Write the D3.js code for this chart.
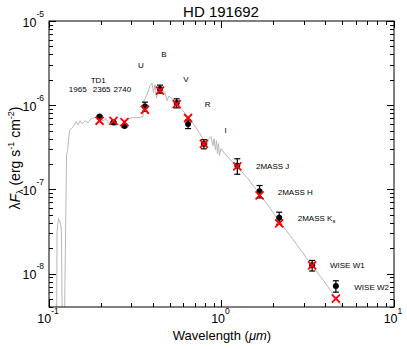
<!DOCTYPE html>
<html>
<head>
<meta charset="utf-8">
<script src="https://d3js.org/d3.v7.min.js"></script>
<title>HD 191692</title>
<style>
  body { margin: 0; background: #fff; }
  text { font-family: "Liberation Sans", Arial, Helvetica, sans-serif; fill: #000; }
</style>
</head>
<body>
<div id="chart"></div>
<script>
// photometry (wavelength in micron, lambda*F_lambda in erg s-1 cm-2)
var bandWave  = [0.1965, 0.2365, 0.274, 0.36, 0.44, 0.55, 0.64, 0.79, 1.235, 1.662, 2.159, 3.353, 4.603];
var obsFlux   = [7.35e-7, 6.24e-7, 5.65e-7, 9.66e-7, 1.56e-6, 1.06e-6, 5.97e-7, 3.46e-7, 1.91e-7, 9.5e-8, 4.6e-8, 1.25e-8, 7.1e-9];
var obsErr    = [1.5e-8, 1.5e-8, 1.5e-8, 1.2e-7, 1.7e-7, 1.3e-7, 7e-8, 4.3e-8, 4e-8, 1.6e-8, 7.5e-9, 1.8e-9, 1.1e-9];
var modelFlux = [6.53e-7, 6.5e-7, 6.3e-7, 8.82e-7, 1.49e-6, 1.03e-6, 7.04e-7, 3.46e-7, 1.88e-7, 8.5e-8, 3.94e-8, 1.25e-8, 5.04e-9];

// model spectrum
var specWave = [0.1105, 0.1113, 0.1135, 0.1166, 0.1181, 0.1197, 0.1222, 0.1264, 0.1280, 0.1315,
                0.1359, 0.1396, 0.1434, 0.1473, 0.1513, 0.1554, 0.1617, 0.1683, 0.1752, 0.1823,
                0.1897, 0.1975, 0.2056, 0.2140, 0.2227, 0.2318, 0.2413, 0.2512, 0.2614, 0.2721,
                0.2832, 0.3027, 0.3281, 0.3507, 0.3530, 0.3700, 0.3850, 0.3955, 0.4035, 0.4117,
                0.4201, 0.4285, 0.4520, 0.4704, 0.4832, 0.4962, 0.5449, 0.5902, 0.6394, 0.6928,
                0.7506, 0.8024, 0.8241, 0.8352, 0.8692, 0.8927, 0.9047, 0.9231, 0.9354, 0.9480,
                0.9607, 0.9736, 0.9933, 1.105, 1.230, 1.424, 1.650, 1.885, 2.154, 2.495,
                2.890, 3.346, 3.929, 4.611, 5.412];
var specFlux = [1e-9, 3.16e-8, 4.51e-8, 3.94e-8, 3.16e-8, 1e-9, 1e-9, 2.58e-7, 2.81e-7, 4.98e-7,
                5.40e-7, 5.70e-7, 6.35e-7, 5.86e-7, 6.53e-7, 6.02e-7, 6.53e-7, 6.18e-7, 6.90e-7, 7.10e-7,
                7.30e-7, 6.90e-7, 6.53e-7, 6.90e-7, 6.02e-7, 6.35e-7, 5.70e-7, 6.02e-7, 5.55e-7, 6.53e-7,
                6.90e-7, 7.10e-7, 7.10e-7, 7.30e-7, 1.10e-6, 1.33e-6, 1.70e-6, 1.84e-6, 1.40e-6, 1.75e-6,
                1.22e-6, 1.65e-6, 1.56e-6, 1.40e-6, 1.13e-6, 1.29e-6, 1.07e-6, 8.82e-7, 7.30e-7, 5.86e-7,
                4.58e-7, 3.58e-7, 3.21e-7, 3.89e-7, 4.23e-7, 3.30e-7, 4.00e-7, 2.96e-7, 3.79e-7, 2.65e-7,
                3.49e-7, 2.51e-7, 3.04e-7, 2.32e-7, 1.89e-7, 1.34e-7, 8.91e-8, 6.25e-8, 4.16e-8, 2.84e-8,
                1.88e-8, 1.25e-8, 8.09e-9, 5.08e-9, 3.29e-9];

// annotations (data coords)
var noteText = ["TD1", "1965", "2365", "2740", "U", "B", "V", "R", "I", "2MASS J", "2MASS H", "2MASS K", "WISE W1", "WISE W2"];
var noteWave = [0.193, 0.1467, 0.202, 0.266, 0.3415, 0.4642, 0.6225, 0.8318, 1.058, 1.585, 2.118, 2.765, 4.256, 5.887];
var noteFlux = [1.84e-6, 1.44e-6, 1.44e-6, 1.44e-6, 2.74e-6, 3.69e-6, 1.87e-6, 9.44e-7, 4.71e-7, 1.76e-7, 8.68e-8, 4.21e-8, 1.15e-8, 6.41e-9];

var xMajor = [0.1, 1, 10], xExp = ["-1", "0", "1"];
var yMajor = [1e-8, 1e-7, 1e-6, 1e-5], yExp = ["-8", "-7", "-6", "-5"];

(function(){
  var w = 407, h = 349;
  var left = 49, right = 394, top = 21, bottom = 307;

  var x = d3.scaleLog().domain([0.1, 10]).range([left, right]);
  var y = d3.scaleLog().domain([4e-9, 1e-5]).range([bottom, top]);

  var svg = d3.select("#chart").append("svg")
      .attr("width", w).attr("height", h);

  svg.append("defs").append("clipPath").attr("id", "clip")
    .append("rect").attr("x", left).attr("y", top)
    .attr("width", right - left).attr("height", bottom - top);

  // spectrum
  var line = d3.line()
      .x(function(d) { return x(d[0]); })
      .y(function(d) { return y(d[1]); });
  svg.append("path")
      .datum(d3.zip(specWave, specFlux))
      .attr("clip-path", "url(#clip)")
      .attr("d", line)
      .attr("fill", "none")
      .attr("stroke", "#b8b8b8")
      .attr("stroke-width", 1);

  // observed points
  var obs = d3.range(bandWave.length);
  var g = svg.append("g").attr("stroke", "#000").attr("stroke-width", 1.2);
  g.selectAll("line.err").data(obs).enter().append("line")
      .attr("x1", function(i) { return x(bandWave[i]); })
      .attr("x2", function(i) { return x(bandWave[i]); })
      .attr("y1", function(i) { return y(obsFlux[i] - obsErr[i]); })
      .attr("y2", function(i) { return y(obsFlux[i] + obsErr[i]); });
  [-1, 1].forEach(function(s) {
    g.selectAll(null).data(obs).enter().append("line")
      .attr("x1", function(i) { return x(bandWave[i]) - 3; })
      .attr("x2", function(i) { return x(bandWave[i]) + 3; })
      .attr("y1", function(i) { return y(obsFlux[i] + s * obsErr[i]); })
      .attr("y2", function(i) { return y(obsFlux[i] + s * obsErr[i]); });
  });
  svg.selectAll("circle").data(obs).enter().append("circle")
      .attr("cx", function(i) { return x(bandWave[i]); })
      .attr("cy", function(i) { return y(obsFlux[i]); })
      .attr("r", 3)
      .attr("fill", "#000");

  // model photometry
  svg.selectAll("path.model").data(obs).enter().append("path")
      .attr("d", function(i) {
        var cx = x(bandWave[i]), cy = y(modelFlux[i]), r = 4;
        return "M" + (cx - r) + "," + (cy - r) + "L" + (cx + r) + "," + (cy + r) +
               "M" + (cx - r) + "," + (cy + r) + "L" + (cx + r) + "," + (cy - r);
      })
      .attr("stroke", "#ff0000")
      .attr("stroke-width", 1.8)
      .attr("fill", "none");

  // annotations
  svg.selectAll("text.note").data(noteText).enter().append("text")
      .attr("x", function(d, i) { return x(noteWave[i]); })
      .attr("y", function(d, i) { return y(noteFlux[i]); })
      .attr("text-anchor", function(d, i) { return i < 9 ? "middle" : "start"; })
      .style("font-size", "8px")
      .each(function(d) {
        var t = d3.select(this);
        t.append("tspan").text(d);
        if (d === "2MASS K") t.append("tspan").attr("dy", 2).style("font-size", "6px").text("s");
      });

  // frame
  svg.append("rect")
      .attr("x", left).attr("y", top)
      .attr("width", right - left).attr("height", bottom - top)
      .attr("fill", "none").attr("stroke", "#000").attr("stroke-width", 1);

  // ticks
  var isMajor = function(v) { return Math.abs(Math.log10(v) - Math.round(Math.log10(v))) < 1e-6; };
  var ticks = svg.append("g").attr("stroke", "#000").attr("stroke-width", 1);
  x.ticks().forEach(function(v) {
    var len = isMajor(v) ? 7 : 4, px = Math.round(x(v)) + 0.5;
    ticks.append("line").attr("x1", px).attr("x2", px).attr("y1", bottom).attr("y2", bottom - len);
    ticks.append("line").attr("x1", px).attr("x2", px).attr("y1", top).attr("y2", top + len);
  });
  y.ticks().forEach(function(v) {
    var len = isMajor(v) ? 7 : 4, py = Math.round(y(v)) + 0.5;
    ticks.append("line").attr("x1", left).attr("x2", left + len).attr("y1", py).attr("y2", py);
    ticks.append("line").attr("x1", right).attr("x2", right - len).attr("y1", py).attr("y2", py);
  });

  // tick labels
  xMajor.forEach(function(v, i) {
    var t = svg.append("text").attr("x", x(v) - 1).attr("y", 322.5)
        .attr("text-anchor", "middle").style("font-size", "12.5px");
    t.append("tspan").text("10");
    t.append("tspan").attr("dy", -8.5).style("font-size", "8.5px").text(xExp[i]);
  });
  yMajor.forEach(function(v, i) {
    var t = svg.append("text").attr("x", 44).attr("y", y(v) + 5.5)
        .attr("text-anchor", "end").style("font-size", "12.5px");
    t.append("tspan").text("10");
    t.append("tspan").attr("dy", -10).style("font-size", "8.5px").text(yExp[i]);
  });

  // titles
  svg.append("text").attr("x", 221).attr("y", 16.5)
      .attr("text-anchor", "middle").style("font-size", "15px").text("HD 191692");

  var xt = svg.append("text").attr("x", 222).attr("y", 340)
      .attr("text-anchor", "middle").style("font-size", "13px");
  xt.append("tspan").text("Wavelength (");
  xt.append("tspan").style("font-style", "italic").text("\u03bcm");
  xt.append("tspan").text(")");

  var yt = svg.append("text")
      .attr("transform", "translate(20,158) rotate(-90)")
      .attr("text-anchor", "middle").style("font-size", "14px");
  yt.append("tspan").text("\u03bb");
  yt.append("tspan").style("font-style", "italic").text("F");
  yt.append("tspan").attr("dy", 3).style("font-size", "9px").text("\u03bb");
  yt.append("tspan").attr("dy", -3).text(" (erg s");
  yt.append("tspan").attr("dy", -6).style("font-size", "9px").text("-1");
  yt.append("tspan").attr("dy", 6).text(" cm");
  yt.append("tspan").attr("dy", -6).style("font-size", "9px").text("-2");
  yt.append("tspan").attr("dy", 6).text(")");
})();
</script>
</body>
</html>
